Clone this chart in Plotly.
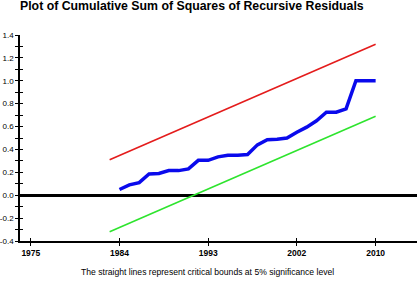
import plotly.graph_objects as go

years = list(range(1984, 2011))
cusumsq = [0.05, 0.09, 0.11, 0.185, 0.19, 0.215, 0.215, 0.23, 0.305, 0.305,
           0.335, 0.35, 0.35, 0.355, 0.44, 0.485, 0.49, 0.50, 0.55, 0.595,
           0.65, 0.725, 0.725, 0.755, 1.0, 1.0, 1.0]
bound_years = [1983, 2010]
upper_bound = [0.31, 1.32]
lower_bound = [-0.32, 0.69]
x_ticks = [1975, 1984, 1993, 2002, 2010]
y_ticks = [-0.4, -0.2, 0.0, 0.2, 0.4, 0.6, 0.8, 1.0, 1.2, 1.4]
y_tick_labels = ["-0.4", "-0.2", "0.0", "0.2", "0.4", "0.6", "0.8", "1.0", "1.2", "1.4"]

title = "Plot of Cumulative Sum of Squares of Recursive Residuals"
note = "The straight lines represent critical bounds at 5% significance level"

FONT = "Liberation Sans"
xr = [1973.9, 2014.2]
yr = [-0.4, 1.4]
L, R, T, B = 20, 2, 35, 41
PW, PH = 419 - L - R, 282 - T - B

fig = go.Figure()
fig.add_trace(go.Scatter(x=bound_years, y=upper_bound, mode="lines",
                         line=dict(color="#e41c1c", width=1.6), showlegend=False))
fig.add_trace(go.Scatter(x=bound_years, y=lower_bound, mode="lines",
                         line=dict(color="#2ee42e", width=1.6), showlegend=False))
fig.add_trace(go.Scatter(x=years, y=cusumsq, mode="lines",
                         line=dict(color="#0a0aec", width=3.5), showlegend=False))
# invisible trace on overlay axes for inner tick marks
fig.add_trace(go.Scatter(x=[None], y=[None], xaxis="x2", yaxis="y2", showlegend=False))

fig.update_layout(
    width=419, height=282,
    margin=dict(l=L, r=R, t=T, b=B),
    paper_bgcolor="white", plot_bgcolor="white",
    font=dict(family=FONT, color="black"),
    title=dict(text="<b>" + title + "</b>", font=dict(size=12.3, family=FONT),
               x=20 / 419, xanchor="left", xref="container",
               y=1 - 1.5 / 282, yanchor="top", yref="container", pad=dict(t=0)),
    xaxis=dict(range=xr, tickvals=x_ticks, ticktext=["<b>%d</b>" % v for v in x_ticks],
               automargin=False,
               showgrid=False, zeroline=False, showline=True, linecolor="black",
               linewidth=1.5, ticks="outside", ticklen=3, tickwidth=1.2,
               tickcolor="black", tickfont=dict(size=8.5, family=FONT)),
    xaxis2=dict(range=xr, tickvals=x_ticks, overlaying="x", anchor="y", side="bottom",
                automargin=False,
                showticklabels=False, showgrid=False, zeroline=False, showline=False,
                ticks="inside", ticklen=3, tickwidth=1.2, tickcolor="black"),
    yaxis=dict(range=yr, tickvals=y_ticks, ticktext=y_tick_labels, automargin=False,
               showgrid=False, zeroline=True, zerolinecolor="black", zerolinewidth=2.5,
               showline=True, linecolor="black", linewidth=1.5,
               ticks="outside", ticklen=3, tickwidth=1.2, tickcolor="black",
               minor=dict(dtick=0.1, ticks="outside", ticklen=3, tickwidth=1, tickcolor="black"),
               tickfont=dict(size=8, family=FONT)),
    yaxis2=dict(range=yr, tickvals=y_ticks, overlaying="y", anchor="x", side="left",
                automargin=False,
                showticklabels=False, showgrid=False, zeroline=False, showline=False,
                ticks="inside", ticklen=3, tickwidth=1.2, tickcolor="black",
                minor=dict(dtick=0.1, ticks="inside", ticklen=3, tickwidth=1, tickcolor="black")),
    annotations=[dict(text=note, x=(207 - L) / PW, xref="paper",
                      y=(282 - B - 272) / PH, yref="paper",
                      xanchor="center", yanchor="middle", showarrow=False,
                      font=dict(size=8.6, family=FONT))],
)

fig.write_html("out.html")
